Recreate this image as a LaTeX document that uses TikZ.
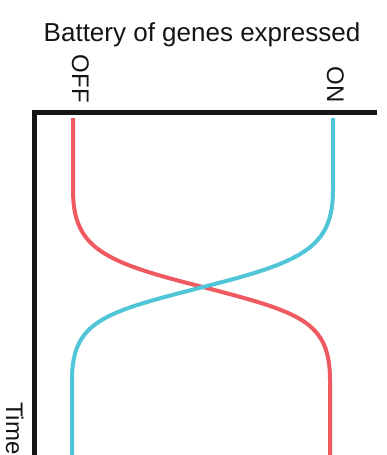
\documentclass[tikz,border=0pt]{standalone}
\usepackage{fontspec}
\setmainfont{Liberation Sans}
\usepackage{tikz}
\usetikzlibrary{calc,positioning}
\definecolor{GeneInk}{HTML}{151515}
\definecolor{GeneRed}{HTML}{EF5A60}
\definecolor{GeneCyan}{HTML}{4FC5D7}

\begin{document}
\begin{tikzpicture}[x=1pt,y=-1pt,line join=miter,
    genecurve/.style={line width=4pt},
    sidelabel/.style={rotate=-90,inner sep=0pt,text=GeneInk,font=\fontsize{24}{28}\selectfont}]
        \useasboundingbox (0,0) rectangle (386,455);
        % title and axis labels
        \node[anchor=base,inner sep=0pt,text=GeneInk,font=\fontsize{26}{30}\selectfont] (title) at (202,41) {Battery of genes expressed};
        \node[sidelabel,anchor=base east] (off) at (72,103) {OFF};
        \node[sidelabel,anchor=base east] (on) at (327,103) {ON};
        \node[sidelabel,anchor=base west] (time) at (6,402) {Time};
        % axes
        \coordinate (corner) at (34.7,112.5);
        \coordinate (xend) at (377,112.5);
        \coordinate (yend) at (34.7,455);
        \draw[GeneInk,line width=4.5pt] (xend) -- (corner) -- (yend);
        % switching curves
        \coordinate (cross) at (203,287);
        \draw[genecurve,GeneRed] (73,118) -- (73,190)
          .. controls (73,248) and (103,262) .. (cross)
          .. controls (298,312) and (330,320) .. (330,380) -- (330,455);
        \draw[genecurve,GeneCyan] (333,118) -- (333,190)
          .. controls (333,248) and (302,262) .. (cross)
          .. controls (106,312) and (72,320) .. (72,380) -- (72,455);
      \end{tikzpicture}
\end{document}
